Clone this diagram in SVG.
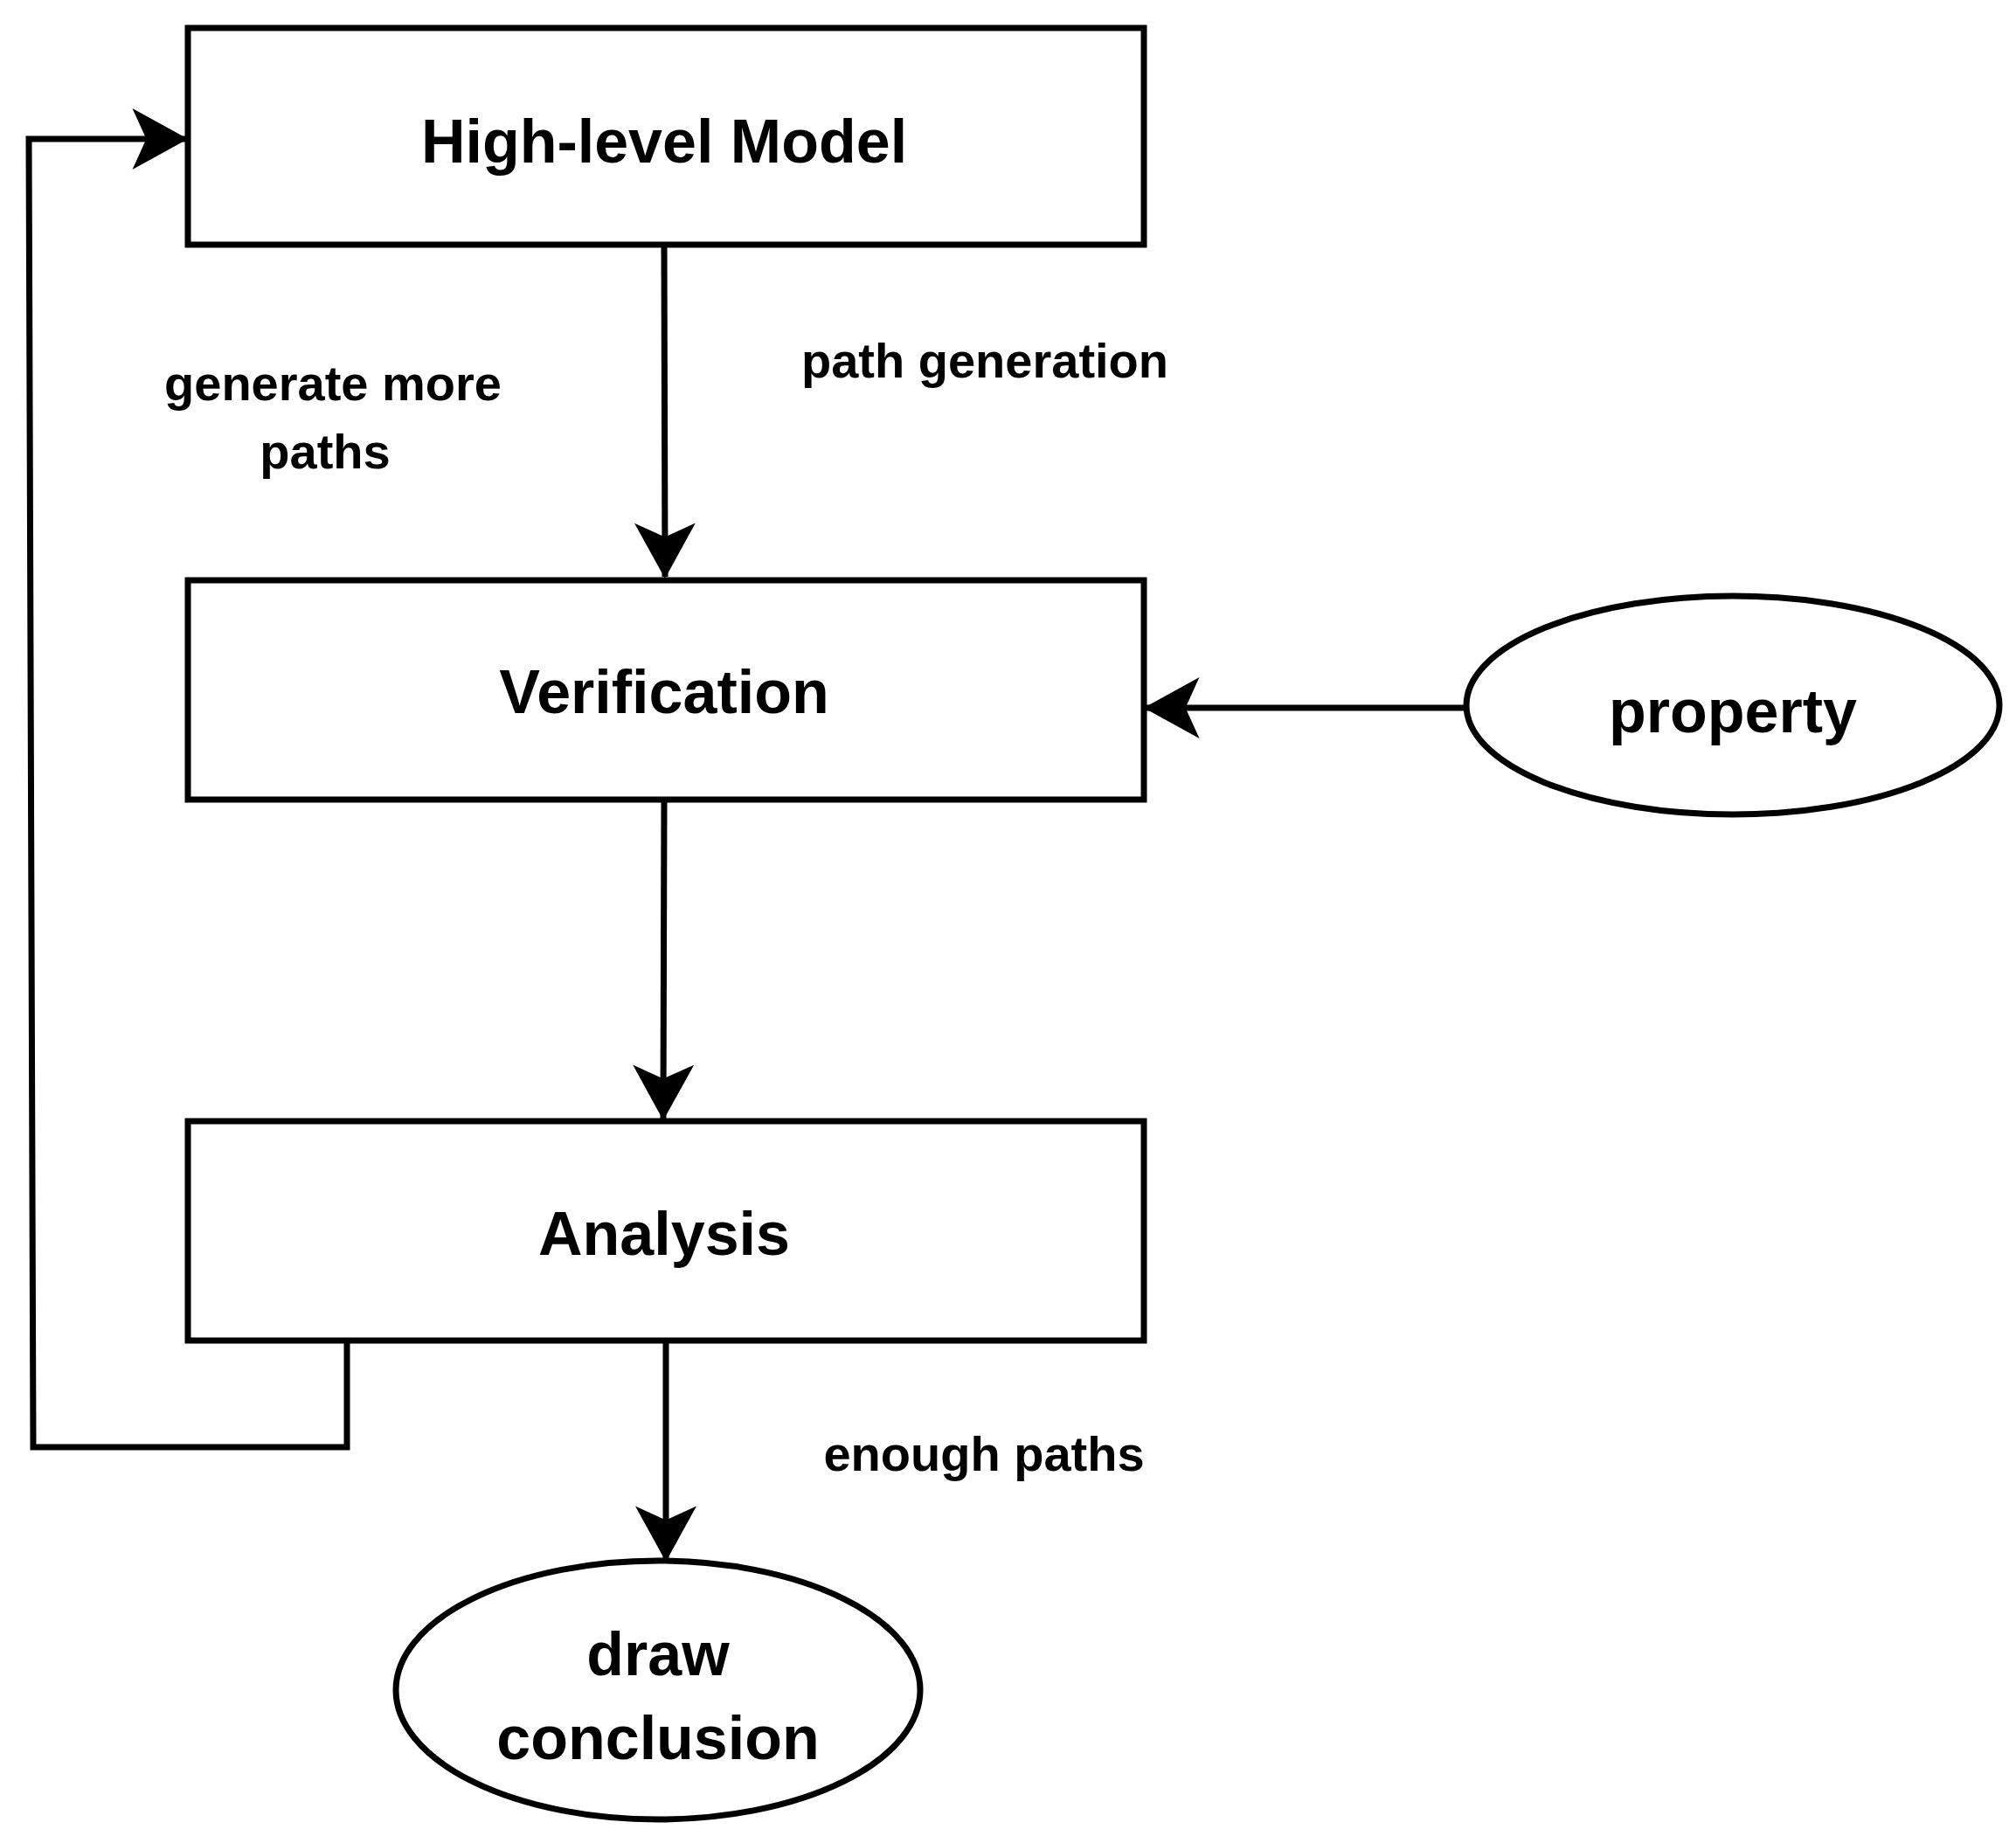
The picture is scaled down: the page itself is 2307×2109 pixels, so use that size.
<svg xmlns="http://www.w3.org/2000/svg" width="2307" height="2109" viewBox="0 0 2307 2109">
<style>
.n{fill:#fff;stroke:#000;stroke-width:7}
.t{font-family:"Liberation Sans",Arial,sans-serif;font-weight:bold;fill:#000;text-anchor:middle}
.big{font-size:70px}
.sm{font-size:56px}
.c{fill:none;stroke:#000;stroke-width:7}
</style>
<defs>
<marker id="a" markerUnits="userSpaceOnUse" markerWidth="70" markerHeight="70" viewBox="0 0 60 66" refX="58" refY="33" orient="auto">
<path d="M0,0 L60,33 L0,66 L15,33 Z" fill="#000"/>
</marker>
</defs>
<rect width="2307" height="2109" fill="#fff"/>
<g id="connectors">
<line class="c" x1="760" y1="280" x2="761" y2="660" marker-end="url(#a)"/>
<line class="c" x1="760" y1="915" x2="759" y2="1280" marker-end="url(#a)"/>
<line class="c" x1="762" y1="1534" x2="762" y2="1785" marker-end="url(#a)"/>
<line class="c" x1="1675" y1="810" x2="1311" y2="810" marker-end="url(#a)"/>
<polyline class="c" points="397,1534 397,1656 38,1656 33,159 213,159" marker-end="url(#a)"/>
</g>
<g id="labels">
<text class="t sm" x="1127" y="432">path generation</text>
<text class="t sm" x="381" y="458">generate more</text>
<text class="t sm" x="372" y="536">paths</text>
<text class="t sm" x="1126" y="1683">enough paths</text>
</g>
<g id="hlm"><rect class="n" x="215" y="32" width="1094" height="248"/><text class="t big" x="760" y="186">High-level Model</text></g>
<g id="verification"><rect class="n" x="215" y="664" width="1094" height="251"/><text class="t big" x="760" y="816">Verification</text></g>
<g id="analysis"><rect class="n" x="215" y="1283" width="1094" height="251"/><text class="t big" x="760" y="1436">Analysis</text></g>
<g id="property"><ellipse class="n" cx="1983" cy="807" rx="305" ry="125"/><text class="t big" x="1983" y="838">property</text></g>
<g id="conclusion"><ellipse class="n" cx="753" cy="1934" rx="300" ry="148"/><text class="t big" x="753" y="1917">draw</text><text class="t big" x="753" y="2013">conclusion</text></g>
</svg>
